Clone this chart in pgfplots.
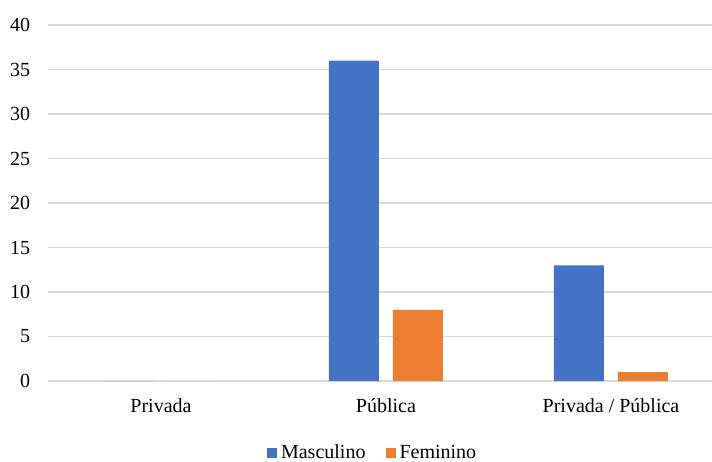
\documentclass[border=0pt]{standalone}
\usepackage{pgfplots}
\pgfplotsset{compat=1.18}
\usepackage{fontspec}
\setmainfont{Liberation Serif}
\definecolor{mblue}{HTML}{4472C4}
\definecolor{forange}{HTML}{ED7D31}
\definecolor{gridgray}{HTML}{D9D9D9}
\begin{document}
\begin{tikzpicture}
\begin{axis}[
  at={(0,0)}, anchor=south west,
  scale only axis,
  width=331.75pt, height=178pt,
  ybar,
  bar width=25pt,
  xmin=-0.5, xmax=2.449,
  ymin=0, ymax=40,
  ytick={0,5,...,40},
  xtick={0,1,2},
  xticklabels={Privada, Pública, Privada / Pública},
  major tick length=0pt,
  axis line style={draw=none},
  ymajorgrids,
  grid style={color=gridgray, line width=0.7pt},
  font=\fontsize{10}{12}\selectfont,
  /pgf/number format/assume math mode=true,
  yticklabel style={xshift=-5.6pt, font=\fontsize{10}{12}\selectfont},
  xticklabel style={yshift=-5.2pt, text height=7pt, text depth=2pt, font=\fontsize{10}{12}\selectfont},
  legend columns=2,
  legend style={draw=none, at={(0.49,-0.2022)}, anchor=center,
    font=\fontsize{10}{12}\selectfont,
    /tikz/every even column/.append style={column sep=8pt}},
  legend image code/.code={\fill[#1] (0pt,-2.5pt) rectangle (5pt,2.5pt);},
]
\addplot[fill=mblue, draw=none, bar shift=-16pt] coordinates {(0,0) (1,36) (2,13)};
\addplot[fill=forange, draw=none, bar shift=16pt] coordinates {(0,0) (1,8) (2,1)};
\legend{Masculino, Feminino}
\end{axis}
\pgfresetboundingbox
\path (-24.25pt,-40pt) rectangle (331.75pt,190.5pt);
\end{tikzpicture}
\end{document}
